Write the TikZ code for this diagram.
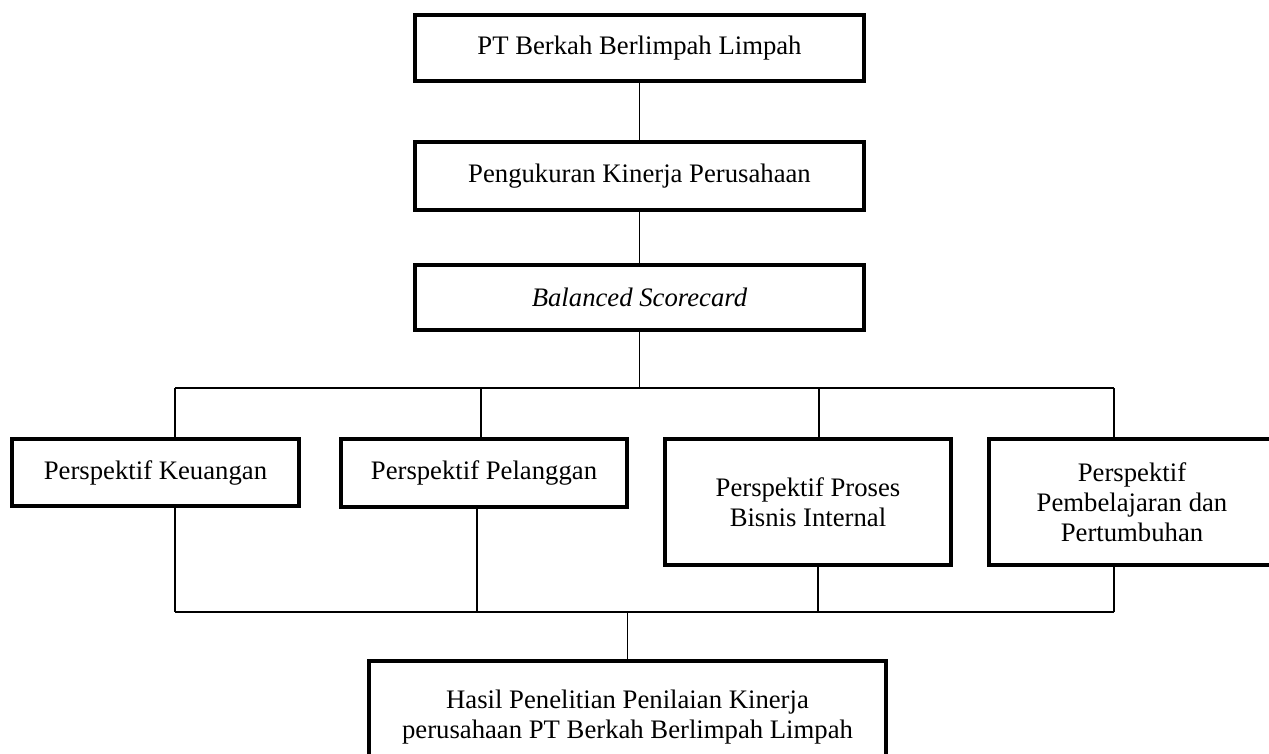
\documentclass[tikz,border=0pt]{standalone}
\usepackage{fontspec}
\setmainfont{Liberation Serif}
\usetikzlibrary{positioning, calc}
\tikzset{kotak/.style={draw, line width=2.3pt, align=center, inner sep=0pt, font=\fontsize{15.2}{17.1}\selectfont}}
\tikzset{garis/.style={line width=0.75pt}}

\begin{document}
\begin{tikzpicture}[x=0.02cm, y=-0.02cm]

  \useasboundingbox (0,0) rectangle (1269,754);
  \clip (0,0) rectangle (1269,754);

  \node[kotak, minimum width=8.98cm, minimum height=1.32cm] (pt) at (639.5,48) {PT Berkah Berlimpah Limpah};
  \node[kotak, minimum width=8.98cm, minimum height=1.36cm] (ukur) at (639.5,176) {Pengukuran Kinerja Perusahaan};
  \node[kotak, minimum width=8.98cm, minimum height=1.30cm] (bsc) at (639.5,297.5) {\textit{Balanced Scorecard}};

  \node[kotak, minimum width=5.74cm, minimum height=1.34cm] (keu) at (155.5,472.5) {Perspektif Keuangan};
  \node[kotak, minimum width=5.72cm, minimum height=1.36cm] (pel) at (484,473) {Perspektif Pelanggan};
  \node[kotak, minimum width=5.72cm, minimum height=2.52cm] (pro) at (808,502) {Perspektif Proses\\Bisnis Internal};
  \node[kotak, minimum width=5.72cm, minimum height=2.52cm] (pem) at (1132,502) {Perspektif\\Pembelajaran dan\\Pertumbuhan};

  \node[kotak, minimum width=10.34cm, minimum height=2.26cm] (hasil) at (627.5,717.5) {Hasil Penelitian Penilaian Kinerja\\perusahaan PT Berkah Berlimpah Limpah};

  % titik cabang
  \coordinate (a1) at (175,388);
  \coordinate (a2) at (481,388);
  \coordinate (a3) at (819,388);
  \coordinate (a4) at (1114,388);
  \coordinate (b1) at (175,612);
  \coordinate (b2) at (477,612);
  \coordinate (b3) at (818,612);
  \coordinate (b4) at (1114,612);

  \draw[garis] (pt) -- (ukur);
  \draw[garis] (ukur) -- (bsc);
  \draw[garis] (bsc.south) -- (bsc.south |- a1);
  \draw[garis] (a1) -- (a4);
  \draw[garis] (a1) -- (a1 |- keu.north);
  \draw[garis] (a2) -- (a2 |- pel.north);
  \draw[garis] (a3) -- (a3 |- pro.north);
  \draw[garis] (a4) -- (a4 |- pem.north);

  \draw[garis] (b1 |- keu.south) -- (b1);
  \draw[garis] (b2 |- pel.south) -- (b2);
  \draw[garis] (b3 |- pro.south) -- (b3);
  \draw[garis] (b4 |- pem.south) -- (b4);
  \draw[garis] (b1) -- (b4);
  \draw[garis] (hasil.north) -- (hasil.north |- b1);

\end{tikzpicture}
\end{document}
